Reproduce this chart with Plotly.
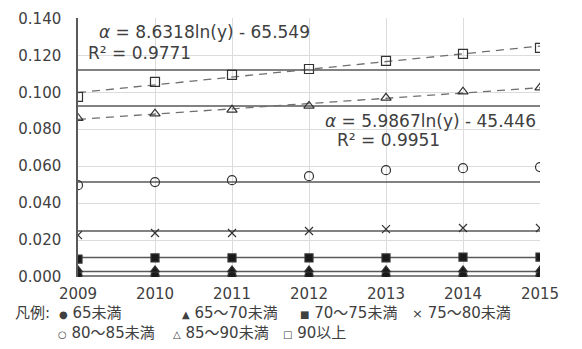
import numpy as np
import plotly.graph_objects as go

years = [2009, 2010, 2011, 2012, 2013, 2014, 2015]
s_lt65 = [0.0008, 0.0008, 0.0008, 0.0008, 0.0008, 0.0008, 0.0008]
s_65_70 = [0.0038, 0.0038, 0.0038, 0.0038, 0.0038, 0.0038, 0.0038]
s_70_75 = [0.0097, 0.0103, 0.0103, 0.0103, 0.0103, 0.0108, 0.0108]
s_75_80 = [0.0227, 0.0238, 0.0238, 0.0249, 0.0259, 0.0265, 0.0265]
s_80_85 = [0.0497, 0.0514, 0.0524, 0.0546, 0.0578, 0.0589, 0.0595]
s_85_90 = [0.0860, 0.0884, 0.0905, 0.0926, 0.0970, 0.1003, 0.1025]
s_90 = [0.0975, 0.1056, 0.1094, 0.1126, 0.1170, 0.1208, 0.1240]
ref_levels = [0.0005, 0.0030, 0.0105, 0.0249, 0.0514, 0.0925, 0.1120]
series_names = ["65未満", "65～70未満", "70～75未満", "75～80未満", "80～85未満", "85～90未満", "90以上"]
series_vals = [s_lt65, s_65_70, s_70_75, s_75_80, s_80_85, s_85_90, s_90]
symbols = ["circle", "triangle-up", "square", "x-thin", "circle-open", "triangle-up-open", "square-open"]
legend_glyphs = ["●", "▲", "■", "×", "○", "△", "□"]
eq_texts = ["<i>α</i> = 8.6318ln(y) - 65.549", "R² = 0.9771", "<i>α</i> = 5.9867ln(y) - 45.446", "R² = 0.9951"]
y_ticks = [0.0, 0.02, 0.04, 0.06, 0.08, 0.1, 0.12, 0.14]

DARK = "#404040"
LINE = "#595959"
FONT = "DejaVu Sans, Noto Sans CJK JP, sans-serif"

fig = go.Figure()

# reference horizontal lines
for lvl in ref_levels:
    fig.add_trace(go.Scatter(x=[years[0], years[-1]], y=[lvl, lvl], mode="lines",
                             line=dict(color=LINE, width=1.5), showlegend=False, hoverinfo="skip"))

# logarithmic trendlines (a*ln(year)+b) for 85-90 and 90+
yr = np.array(years, dtype=float)
xs = np.linspace(yr[0], yr[-1], 40)
for vals in (s_85_90, s_90):
    a, b = np.polyfit(np.log(yr), np.array(vals), 1)
    fig.add_trace(go.Scatter(x=xs, y=a * np.log(xs) + b, mode="lines",
                             line=dict(color="#6f6f6f", width=1.3, dash="8px,6px"),
                             showlegend=False, hoverinfo="skip"))

for name, vals, sym in zip(series_names, series_vals, symbols):
    filled = not sym.endswith("open")
    size = 9 if not filled else 8
    fig.add_trace(go.Scatter(
        x=years, y=vals, mode="markers", name=name,
        marker=dict(symbol=sym, size=size, color="#1a1a1a" if filled else "#333333",
                    line=dict(color="#333333", width=1.2)),
        showlegend=False))

annotations = [
    dict(x=0.041, y=0.946, text=eq_texts[0], xanchor="left"),
    dict(x=0.017, y=0.863, text=eq_texts[1], xanchor="left"),
    dict(x=0.996, y=0.604, text=eq_texts[2], xanchor="right"),
    dict(x=0.556, y=0.529, text=eq_texts[3], xanchor="left"),
]
for a in annotations:
    fig.add_annotation(xref="paper", yref="paper", showarrow=False, yanchor="middle",
                       font=dict(family=FONT, size=17, color=DARK), **a)

# legend as text
fig.add_annotation(xref="paper", yref="paper", x=-0.141, y=-0.139, text="凡例:", showarrow=False,
                   xanchor="left", yanchor="middle", font=dict(family=FONT, size=15, color=DARK))
leg_pos = [(-0.045, -0.139), (0.221, -0.139), (0.476, -0.139), (0.719, -0.139),
           (-0.048, -0.216), (0.201, -0.216), (0.439, -0.216)]
for (px, py), g, nm in zip(leg_pos, legend_glyphs, series_names):
    gsize = 10 if g != "×" else 13
    fig.add_annotation(xref="paper", yref="paper", x=px, y=py,
                       text=f"<span style='font-size:{gsize}px'>{g}</span> {nm}",
                       showarrow=False, xanchor="left", yanchor="middle",
                       font=dict(family=FONT, size=15, color=DARK))

# page body has an 8px default margin; figure is offset to compensate
fig.update_layout(
    width=574, height=341,
    margin=dict(l=70, r=42, t=10, b=72),
    paper_bgcolor="white", plot_bgcolor="white",
    font=dict(family=FONT, size=15, color=DARK),
    xaxis=dict(range=[years[0], years[-1]], tickmode="array", tickvals=years,
               ticktext=[str(y) for y in years], showgrid=True, gridcolor="#dcdcdc",
               gridwidth=1, zeroline=False, showline=False, ticks="", automargin=False,
               ticklabelstandoff=6, ticklabeloverflow="allow",
               tickfont=dict(family=FONT, size=15, color=DARK)),
    yaxis=dict(range=[0, 0.1402], tickmode="array", tickvals=y_ticks,
               ticktext=[f"{v:.3f}" for v in y_ticks], showgrid=True, gridcolor="#dcdcdc",
               gridwidth=1, zeroline=False, showline=True, linecolor=LINE, linewidth=1.5,
               ticks="", ticklabelstandoff=12, ticklabeloverflow="allow", automargin=False,
               tickfont=dict(family=FONT, size=15, color=DARK)),
    showlegend=False,
)

fig.write_html("out.html")
